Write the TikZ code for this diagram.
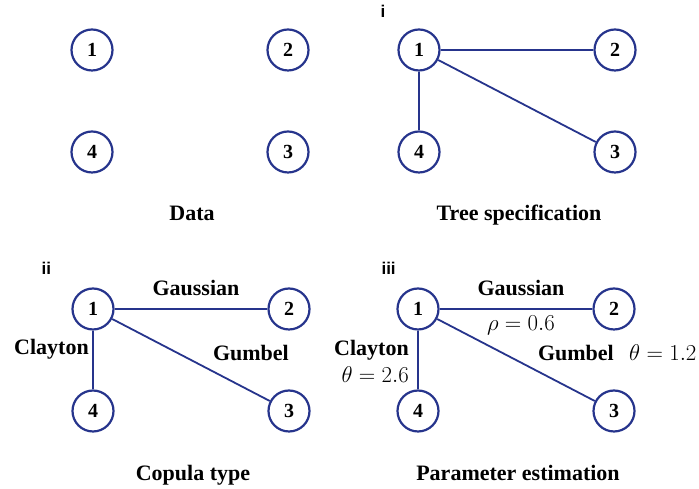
\documentclass[tikz,border=0pt]{standalone}
\usepackage[no-math]{fontspec}
\setmainfont{Liberation Serif}
\newfontfamily\panelfont{Liberation Sans}
\usepackage{amsmath}
\usepackage{graphicx}
\usetikzlibrary{positioning,calc}
\definecolor{treeblue}{RGB}{38,52,140}
\newcommand{\parval}[1]{\scalebox{1.1}{\mdseries$#1$}}

\begin{document}
\begin{tikzpicture}[x=1pt, y=1pt, node distance=102pt and 196pt, on grid,
    vert/.style={circle, draw=treeblue, line width=2.2pt, minimum size=41pt, inner sep=0pt,
        font=\fontsize{20}{24}\selectfont\bfseries},
    link/.style={draw=treeblue, line width=1.8pt},
    lbl/.style={font=\fontsize{22}{26}\selectfont\bfseries},
    title/.style={font=\fontsize{22}{26}\selectfont\bfseries, anchor=base},
    panel/.style={font=\fontsize{17}{20}\selectfont\panelfont\bfseries, anchor=base west}]
    \useasboundingbox (0,0) rectangle (699,489);

    % Data
    \node[vert] (a1) at (92,439) {1};
    \node[vert] (a2) [right=of a1] {2};
    \node[vert] (a4) [below=of a1] {4};
    \node[vert] (a3) [right=of a4] {3};
    \node[title] (ta) at ($(a4)!0.5!(a3)+(2,-69)$) {Data};

    % Tree specification
    \node[panel] (pi) at (377,471) {i};
    \node[vert] (b1) at (419,439) {1};
    \node[vert] (b2) [right=of b1] {2};
    \node[vert] (b4) [below=of b1] {4};
    \node[vert] (b3) [right=of b4] {3};
    \path[link]
    (b1) edge (b2)
    (b1) edge (b4)
    (b1) edge (b3)
    ;
    \node[title] (tb) at ($(b4)!0.5!(b3)+(2,-69)$) {Tree specification};

    % Copula type
    \node[panel] (pii) at (38,214) {ii};
    \node[vert] (c1) at (93,180) {1};
    \node[vert] (c2) [right=of c1] {2};
    \node[vert] (c4) [below=of c1] {4};
    \node[vert] (c3) [right=of c4] {3};
    \path[link]
    (c1) edge node[lbl, above=9pt, xshift=5pt] {Gaussian} (c2)
    (c1) edge node[lbl, left, pos=0.32] {Clayton} (c4)
    (c1) edge node[lbl, above right, pos=0.6, xshift=2pt, yshift=3pt] {Gumbel} (c3)
    ;
    \node[title] (tc) at ($(c4)!0.5!(c3)+(2,-70)$) {Copula type};

    % Parameter estimation
    \node[panel] (piii) at (378,214) {iii};
    \node[vert] (d1) at (418,180) {1};
    \node[vert] (d2) [right=of d1] {2};
    \node[vert] (d4) [below=of d1] {4};
    \node[vert] (d3) [right=of d4] {3};
    \path[link]
    (d1) edge node[lbl, above=9pt, xshift=5pt] {Gaussian}
              node[lbl, below=3pt, xshift=5pt] {\parval{\rho=0.6}} (d2)
    (d1) edge node[lbl, left=5pt, pos=0.52, align=right] {Clayton\\[1pt]\parval{\theta=2.6}} (d4)
    (d1) edge node[lbl, above right, pos=0.6, xshift=2pt, yshift=3pt] {Gumbel\hspace{0.7em}\parval{\theta=1.2}} (d3)
    ;
    \node[title] (td) at ($(d4)!0.5!(d3)+(2,-70)$) {Parameter estimation};
\end{tikzpicture}
\end{document}
